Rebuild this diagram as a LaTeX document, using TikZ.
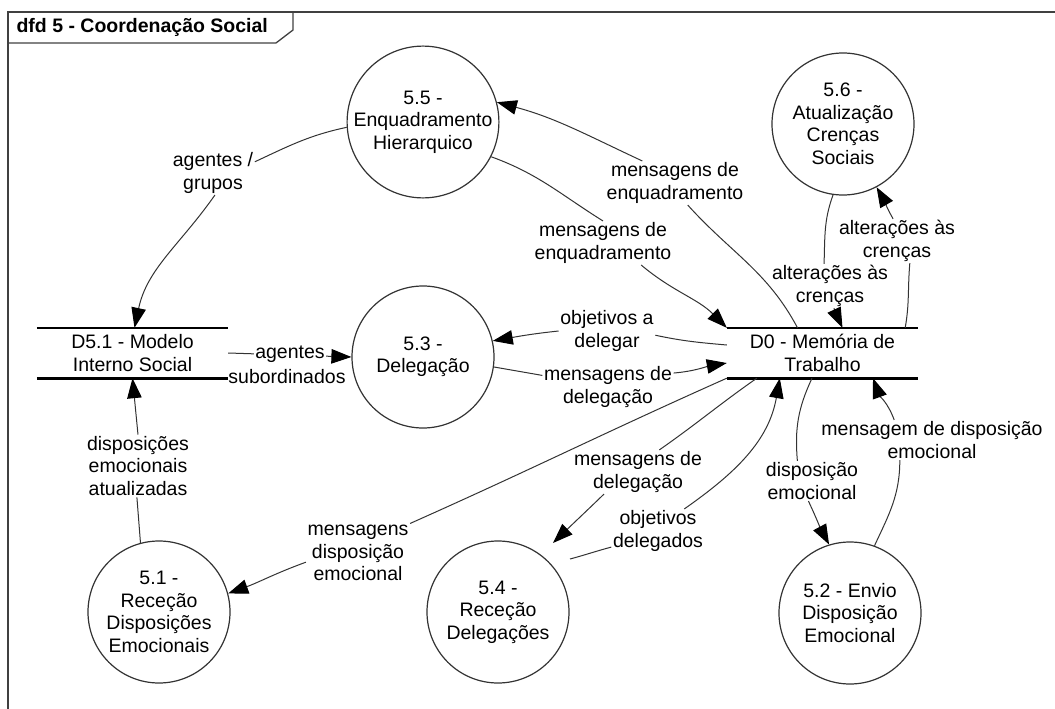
\documentclass[tikz,border=0pt]{standalone}
\usepackage{fontspec}
\setmainfont{Liberation Sans}
\usetikzlibrary{arrows.meta}

\begin{document}
\begin{tikzpicture}[x=1pt,y=1pt,
  every node/.style={font=\fontsize{19.5}{22.5}\selectfont, text=black},
  frame/.style={draw=black!75, line width=1.3pt},
  proc/.style={circle, draw=black!80, line width=1.2pt, minimum size=142pt,
    inner sep=0pt, align=center, fill=white},
  store/.style={minimum width=191pt, minimum height=50pt, inner sep=0pt, align=center},
  storeline/.style={draw=black, line width=2.6pt},
  lbl/.style={align=center, inner sep=1.5pt},
  flow/.style={draw=black!80, line width=1pt,
    -{Triangle[length=20pt,width=14.5pt,fill=black,color=black]}},
]
\useasboundingbox (0,0) rectangle (1055,-709);

% diagram frame and name tab
\draw[frame] (8,-709) -- (8,-12) -- (1055,-12);
\draw[frame] (8,-12) -- (293,-12) -- (293,-30) -- (276,-43) -- (8,-43);
\node[anchor=west, font=\fontsize{19.5}{22.5}\selectfont\bfseries] (title) at (13,-27.5)
  {dfd 5 - Coordenação Social};

% processes
\node[proc] (n55) at (423,-122) {5.5 -\\Enquadramento\\Hierarquico};
\node[proc] (n56) at (843,-124) {5.6 -\\Atualização\\Crenças\\Sociais};
\node[proc] (n53) at (423,-357) {5.3 -\\Delegação};
\node[proc] (n51) at (159,-612) {5.1 -\\Receção\\Disposições\\Emocionais};
\node[proc] (n54) at (498,-612) {5.4 -\\Receção\\Delegações};
\node[proc] (n52) at (850,-613) {5.2 - Envio\\Disposição\\Emocional};

% data stores
\node[store] (d51) at (132.5,-353) {D5.1 - Modelo\\Interno Social};
\node[store] (d0) at (822.5,-353) {D0 - Memória de\\Trabalho};
\draw[storeline] (d51.north west) -- (d51.north east)
                 (d51.south west) -- (d51.south east);
\draw[storeline] (d0.north west) -- (d0.north east)
                 (d0.south west) -- (d0.south east);

% flow labels
\node[lbl] (L1) at (213,-173) {agentes /\\grupos};
\node[lbl] (L2) at (603,-243) {mensagens de\\enquadramento};
\node[lbl] (L3) at (675,-183) {mensagens de\\enquadramento};
\node[lbl] (L4) at (830,-286) {alterações às\\crenças};
\node[lbl] (L5) at (897,-241) {alterações às\\crenças};
\node[lbl] (L6) at (607,-331) {objetivos a\\delegar};
\node[lbl] (L7) at (608,-387) {mensagens de\\delegação};
\node[lbl] (L9) at (358,-553) {mensagens\\disposição\\emocional};
\node[lbl] (L10) at (638,-472) {mensagens de\\delegação};
\node[lbl] (L11) at (658,-531) {objetivos\\delegados};
\node[lbl] (L12) at (812,-481) {disposição\\emocional};
\node[lbl] (L13) at (932,-440) {mensagem de disposição\\emocional};
\node[lbl] (L14) at (138,-466) {disposições\\emocionais\\atualizadas};

% flows
\draw[flow] (n55.184) to[out=192,in=25] (L1.15)
            (L1.-85) to[out=235,in=78] ([xshift=2]d51.north);
\draw[flow] (n55.-27) to[out=-20,in=148] (L2.north)
            (L2.-30) to[out=-40,in=135] (d0.north west);
\draw[flow] ([xshift=-25]d0.north) to[out=118,in=-48] (L3.-60)
            (L3.146) to[out=155,in=-15] (n55.15);
\draw[flow] (n56.262) to[out=250,in=88] (L4.105)
            (L4.-80) to[out=-65,in=115] ([xshift=20]d0.north);
\draw[flow] ([xshift=-13]d0.north east) to[out=80,in=-95] (L5.-60)
            (L5.100) to[out=120,in=-60] (n56.-62);
\draw[flow] ([yshift=8]d0.west) to[out=175,in=-12] (L6.-5)
            (L6.180) to[out=186,in=10] (n53.13);
\draw[flow] (n53.-8) to[out=-10,in=170] (L7.170)
            (L7.12) to[out=5,in=190] ([yshift=-10]d0.west);
\draw[flow] (d51.east) -- (n53.west);
\node[lbl, fill=white, inner sep=1pt] (L8a) at (290,-354) {agentes};
\node[lbl] (L8b) at (287,-377) {subordinados};
\draw[flow] (d0.south west) to[out=204,in=24] (L9.north east)
            (L9.190) to[out=200,in=20] (n51.15);
\draw[flow] ([xshift=30]d0.south west) to[out=215,in=35] (L10.46)
            (L10.213) to[out=224,in=44] ([shift={(55,69)}]n54.center);
\draw[flow] ([shift={(72,53)}]n54.center) to[out=15,in=195] (L11.199)
            (L11.40) to[out=35,in=-100] ([xshift=53]d0.south west);
\draw[flow] ([xshift=-10.5]d0.south) to[out=245,in=95] (L12.126)
            (L12.-100) to[out=-65,in=118] (n52.107);
\draw[flow] (n52.70) to[out=65,in=-90] (L13.212)
            (L13.152) to[out=110,in=-70] ([xshift=50.5]d0.south);
\draw[flow] (n51.105) -- (L14.-92)
            (L14.north) -- (d51.south);
\end{tikzpicture}
\end{document}
